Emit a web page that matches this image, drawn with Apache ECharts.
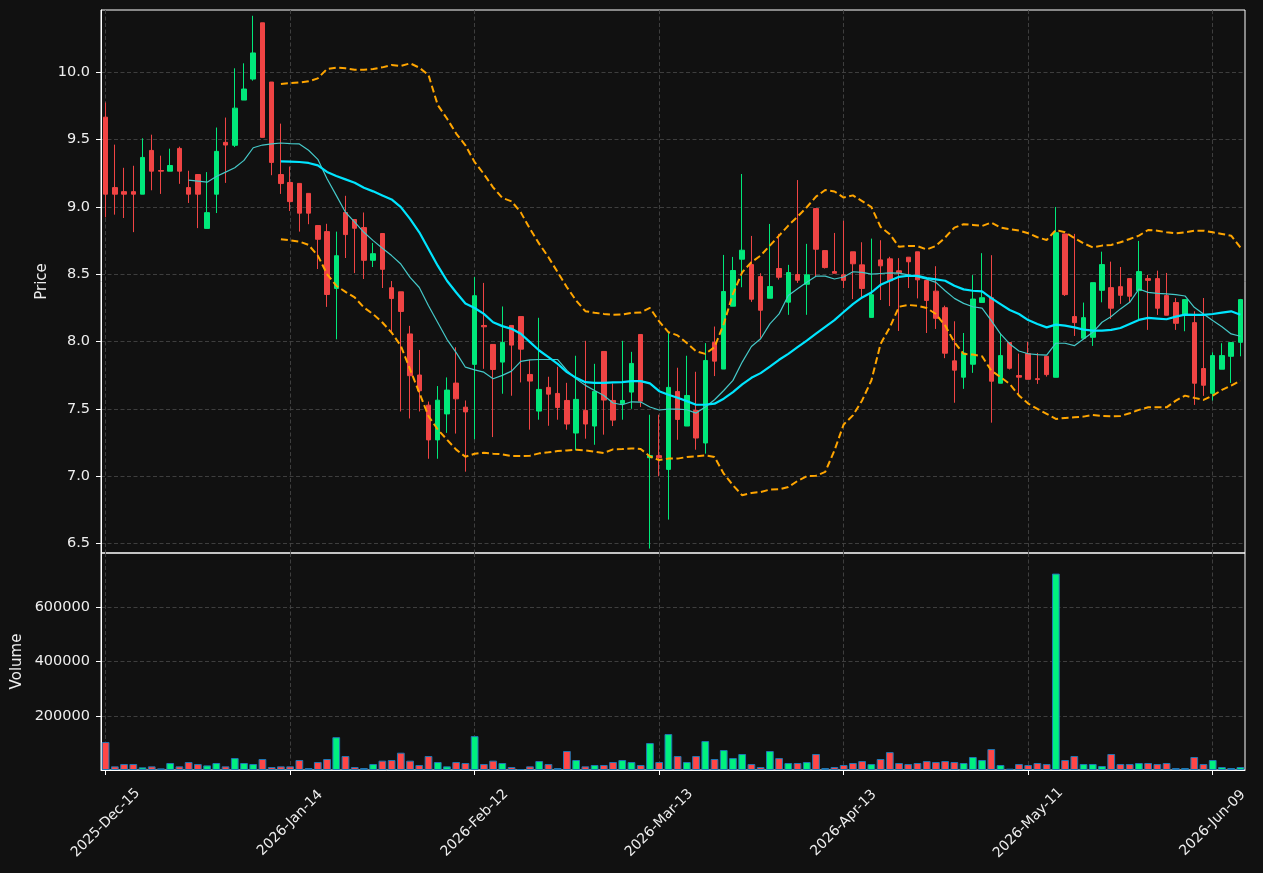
<!DOCTYPE html>
<html><head><meta charset="utf-8">
<script src="https://cdn.jsdelivr.net/npm/echarts@6/dist/echarts.min.js"></script>
<style>html,body{margin:0;padding:0;background:#111111;}#c{width:1263px;height:873px;}</style>
</head><body><div id="c"></div>
<script>
const dates = [
"2025-Dec-15","2025-Dec-16","2025-Dec-17","2025-Dec-18","2025-Dec-19","2025-Dec-22","2025-Dec-23","2025-Dec-24","2025-Dec-26","2025-Dec-29","2025-Dec-30","2025-Dec-31",
"2026-Jan-02","2026-Jan-05","2026-Jan-06","2026-Jan-07","2026-Jan-08","2026-Jan-09","2026-Jan-12","2026-Jan-13","2026-Jan-14","2026-Jan-15","2026-Jan-16","2026-Jan-20","2026-Jan-21","2026-Jan-22","2026-Jan-23","2026-Jan-26","2026-Jan-27","2026-Jan-28","2026-Jan-29","2026-Jan-30",
"2026-Feb-02","2026-Feb-03","2026-Feb-04","2026-Feb-05","2026-Feb-06","2026-Feb-09","2026-Feb-10","2026-Feb-11","2026-Feb-12","2026-Feb-13","2026-Feb-17","2026-Feb-18","2026-Feb-19","2026-Feb-20","2026-Feb-23","2026-Feb-24","2026-Feb-25","2026-Feb-26","2026-Feb-27",
"2026-Mar-02","2026-Mar-03","2026-Mar-04","2026-Mar-05","2026-Mar-06","2026-Mar-09","2026-Mar-10","2026-Mar-11","2026-Mar-12","2026-Mar-13","2026-Mar-16","2026-Mar-17","2026-Mar-18","2026-Mar-19","2026-Mar-20","2026-Mar-23","2026-Mar-24","2026-Mar-25","2026-Mar-26","2026-Mar-27","2026-Mar-30","2026-Mar-31",
"2026-Apr-01","2026-Apr-02","2026-Apr-06","2026-Apr-07","2026-Apr-08","2026-Apr-09","2026-Apr-10","2026-Apr-13","2026-Apr-14","2026-Apr-15","2026-Apr-16","2026-Apr-17","2026-Apr-20","2026-Apr-21","2026-Apr-22","2026-Apr-23","2026-Apr-24","2026-Apr-27","2026-Apr-28","2026-Apr-29","2026-Apr-30",
"2026-May-01","2026-May-04","2026-May-05","2026-May-06","2026-May-07","2026-May-08","2026-May-11","2026-May-12","2026-May-13","2026-May-14","2026-May-15","2026-May-18","2026-May-19","2026-May-20","2026-May-21","2026-May-22","2026-May-26","2026-May-27","2026-May-28","2026-May-29",
"2026-Jun-01","2026-Jun-02","2026-Jun-03","2026-Jun-04","2026-Jun-05","2026-Jun-08","2026-Jun-09","2026-Jun-10","2026-Jun-11","2026-Jun-12"];

const opens = [9.667,9.144,9.114,9.114,9.095,9.420,9.271,9.266,9.435,9.144,9.241,8.841,9.095,9.480,9.458,9.794,9.950,10.368,9.928,9.241,
9.182,9.175,9.101,8.862,8.817,8.395,8.959,8.907,8.847,8.604,8.803,8.400,8.370,8.057,7.752,7.528,7.270,7.463,7.692,7.513,
7.831,8.120,7.979,7.848,8.120,8.186,7.756,7.484,7.660,7.615,7.563,7.321,7.489,7.373,7.927,7.563,7.539,7.625,8.053,7.138,
7.153,7.051,7.630,7.373,7.489,7.247,7.994,7.796,8.263,8.612,8.572,8.483,8.322,8.543,8.293,8.498,8.426,8.988,8.676,8.520,
8.496,8.667,8.570,8.180,8.607,8.615,8.526,8.627,8.667,8.454,8.375,8.252,7.857,7.736,7.832,8.291,8.326,7.691,7.993,7.748,
7.912,7.725,7.891,7.735,8.800,8.186,8.025,8.032,8.381,8.401,8.408,8.468,8.379,8.468,8.468,8.342,8.290,8.196,8.141,7.800,
7.616,7.795,7.891,7.995];
const highs = [9.776,9.463,9.291,9.306,9.510,9.537,9.381,9.433,9.448,9.269,9.241,9.259,9.590,9.664,10.030,10.067,10.420,10.368,9.928,9.619,
9.300,9.175,9.101,8.862,8.875,8.817,9.083,8.907,8.959,8.733,8.803,8.450,8.370,8.117,7.938,7.555,7.670,7.734,7.958,7.563,
8.479,8.436,7.979,8.261,8.120,8.186,7.865,8.177,7.739,7.813,7.694,7.895,8.006,7.835,7.927,7.689,8.006,7.924,8.053,7.457,
7.457,8.065,7.806,7.895,7.776,7.989,8.112,8.644,8.629,9.245,8.785,8.508,8.874,8.800,8.570,9.200,8.726,8.988,8.676,8.807,
8.898,8.667,8.738,8.765,8.753,8.630,8.620,8.627,8.667,8.454,8.560,8.267,8.151,8.064,8.494,8.657,8.642,8.064,7.993,7.911,
7.998,7.916,7.891,9.000,8.800,8.800,8.290,8.438,8.668,8.594,8.554,8.468,8.748,8.495,8.527,8.510,8.324,8.312,8.225,8.324,
7.921,7.988,7.993,8.317];
const lows = [8.923,8.943,8.918,8.813,9.095,9.124,9.097,9.266,9.172,9.030,8.843,8.841,8.955,9.179,9.445,9.794,9.938,9.517,9.236,9.097,
8.970,8.817,8.872,8.539,8.258,8.017,8.621,8.509,8.465,8.554,8.398,8.067,7.481,7.429,7.481,7.130,7.130,7.322,7.317,7.034,
7.275,7.798,7.291,7.613,7.598,7.697,7.346,7.420,7.375,7.420,7.346,7.192,7.279,7.234,7.309,7.373,7.420,7.501,7.514,6.463,
7.000,6.678,7.271,7.373,7.197,7.168,7.744,7.796,8.263,8.404,8.295,8.028,8.322,8.461,8.199,8.436,8.199,8.483,8.543,8.508,
8.397,8.316,8.328,8.180,8.309,8.264,8.079,8.398,8.321,8.064,8.094,7.877,7.546,7.649,7.768,8.291,7.398,7.691,7.793,7.607,
7.720,7.686,7.740,7.735,8.339,8.042,8.025,7.968,8.292,8.168,8.280,8.290,8.168,8.087,8.198,8.196,8.087,8.077,7.530,7.597,
7.562,7.795,7.693,7.891];
const closes = [9.095,9.095,9.095,9.095,9.368,9.266,9.266,9.308,9.266,9.095,9.095,8.958,9.413,9.460,9.734,9.876,10.144,9.517,9.331,9.174,
9.040,8.954,8.954,8.760,8.350,8.638,8.795,8.842,8.604,8.653,8.537,8.320,8.224,7.747,7.635,7.270,7.565,7.640,7.575,7.478,
8.341,8.110,7.793,7.994,7.974,7.944,7.707,7.645,7.610,7.511,7.388,7.571,7.388,7.630,7.566,7.417,7.563,7.838,7.558,7.153,
7.138,7.660,7.422,7.600,7.284,7.860,7.855,8.372,8.528,8.679,8.315,8.233,8.409,8.478,8.513,8.456,8.496,8.686,8.550,8.508,
8.455,8.578,8.395,8.348,8.563,8.452,8.511,8.593,8.459,8.306,8.173,7.914,7.788,7.916,8.316,8.326,7.706,7.896,7.802,7.736,
7.720,7.718,7.755,8.809,8.349,8.141,8.178,8.438,8.572,8.248,8.344,8.337,8.520,8.455,8.248,8.196,8.136,8.312,7.691,7.676,
7.896,7.896,7.993,8.312];
const volumes = [103000,13500,22000,22000,9800,13500,6000,25800,13500,29400,22000,17000,25800,13500,44000,25800,22000,40500,11000,13500,
13500,36800,7400,29400,40500,121000,51500,11000,7400,22000,34400,36800,63800,34400,18400,51500,29400,13500,29400,25800,
125000,22000,34400,25800,11000,3700,13500,33000,22000,7400,70000,36800,13500,18400,18400,29400,36800,29400,18400,99400,
29400,132500,51500,29400,51500,106700,40500,73600,44000,59000,22000,11000,70000,44000,25800,25800,29400,59000,7400,11000,
18400,25800,33000,22000,40500,66000,25800,22000,25800,33000,29400,33000,29400,25800,47900,36800,77300,18400,4900,22000,
18400,25800,22000,724000,36800,51500,22000,22000,14700,59000,22000,22000,25800,25800,22000,25800,7400,7400,47900,22000,
36800,11000,7400,11000];

const ma10Start = 9;
const ma10 = [9.199,9.192,9.184,9.226,9.259,9.291,9.346,9.440,9.460,9.468,9.475,
9.470,9.468,9.421,9.354,9.210,9.086,8.961,8.887,8.812,8.750,8.693,8.639,8.576,8.477,8.402,8.266,8.142,8.017,7.918,7.810,
7.790,7.773,7.724,7.749,7.781,7.853,7.865,7.867,7.867,7.867,7.786,7.724,7.675,7.637,7.600,7.544,7.531,7.553,7.551,7.514,
7.492,7.499,7.499,7.494,7.469,7.514,7.568,7.637,7.712,7.848,7.964,8.021,8.132,8.206,8.342,8.392,8.441,8.486,8.486,8.465,
8.480,8.519,8.514,8.501,8.506,8.511,8.509,8.496,8.481,8.464,8.440,8.378,8.321,8.284,8.259,8.249,8.156,8.057,7.983,7.930,
7.910,7.903,7.899,7.988,7.988,7.970,8.020,8.069,8.144,8.186,8.243,8.292,8.391,8.366,8.359,8.354,8.349,8.339,8.255,8.205,
8.156,8.111,8.057,8.040];

const bandStart = 19;
const ma20 = [9.339,
9.337,9.334,9.327,9.309,9.260,9.230,9.205,9.180,9.143,9.116,9.086,9.056,8.999,8.912,8.812,8.688,8.564,8.452,8.365,8.283,
8.250,8.206,8.144,8.115,8.095,8.058,7.996,7.934,7.885,7.835,7.773,7.731,7.699,7.694,7.694,7.697,7.699,7.707,7.707,7.690,
7.632,7.605,7.583,7.558,7.531,7.531,7.539,7.576,7.625,7.682,7.731,7.766,7.815,7.865,7.909,7.959,8.008,8.060,8.110,8.160,
8.220,8.279,8.328,8.365,8.422,8.452,8.481,8.489,8.489,8.472,8.462,8.452,8.415,8.388,8.378,8.373,8.323,8.279,8.235,8.205,
8.160,8.131,8.106,8.126,8.119,8.106,8.089,8.082,8.082,8.087,8.101,8.131,8.161,8.176,8.171,8.166,8.186,8.200,8.198,8.198,
8.205,8.215,8.225,8.200];
const upper = [9.914,
9.920,9.925,9.933,9.955,10.025,10.035,10.030,10.020,10.020,10.025,10.037,10.055,10.047,10.067,10.035,9.980,9.757,9.657,9.545,9.458,
9.333,9.245,9.146,9.067,9.042,8.960,8.837,8.726,8.627,8.515,8.404,8.305,8.226,8.214,8.206,8.199,8.201,8.214,8.216,8.250,
8.150,8.070,8.046,7.989,7.929,7.909,7.959,8.132,8.355,8.515,8.590,8.639,8.713,8.787,8.862,8.928,8.998,9.077,9.126,9.115,
9.070,9.086,9.044,9.000,8.852,8.798,8.704,8.711,8.709,8.684,8.711,8.773,8.847,8.872,8.867,8.859,8.884,8.847,8.835,8.825,
8.805,8.775,8.755,8.829,8.812,8.770,8.730,8.700,8.713,8.718,8.738,8.762,8.787,8.829,8.824,8.812,8.804,8.812,8.824,8.824,
8.812,8.800,8.787,8.700];
const lower = [8.761,
8.752,8.743,8.718,8.639,8.502,8.415,8.370,8.328,8.253,8.204,8.142,8.067,7.968,7.794,7.620,7.446,7.347,7.272,7.198,7.145,
7.167,7.175,7.168,7.163,7.150,7.150,7.153,7.170,7.178,7.187,7.192,7.197,7.192,7.183,7.173,7.200,7.202,7.207,7.202,7.147,
7.120,7.131,7.131,7.143,7.148,7.155,7.143,7.019,6.933,6.859,6.876,6.883,6.901,6.903,6.920,6.965,7.000,7.004,7.032,7.192,
7.385,7.452,7.563,7.711,7.983,8.106,8.259,8.272,8.267,8.249,8.205,8.119,7.995,7.909,7.904,7.891,7.785,7.736,7.686,7.600,
7.540,7.500,7.463,7.426,7.433,7.438,7.443,7.455,7.448,7.446,7.448,7.468,7.493,7.512,7.512,7.512,7.562,7.599,7.582,7.567,
7.599,7.641,7.673,7.710];

const xTickIndex = [0,20,40,60,80,100,120];
const priceTicks = [6.5,7.0,7.5,8.0,8.5,9.0,9.5,10.0];
const volumeTicks = [200000,400000,600000];

const UP = '#00e87a', DOWN = '#f04444';
const VUP = '#00f07f', VDOWN = '#ff4747';
const TXT = '#eeeeee', GRIDC = '#444444';

function pad(start, arr){ const out = []; for (let i=0;i<start;i++) out.push(null); return out.concat(arr); }
const candleData = opens.map((o,i)=>[o, closes[i], lows[i], highs[i]]);
const volData = volumes.map((v,i)=>({value:v, itemStyle:{color: closes[i]>=opens[i]?VUP:VDOWN}}));
const isTick = (idx)=> xTickIndex.indexOf(idx) >= 0;

const chart = echarts.init(document.getElementById('c'), null, {renderer:'canvas'});
const splitLineStyle = {color: GRIDC, width: 0.9, type: [4, 2.5]};
const labelFont = {color: TXT, fontSize: 14.5, fontFamily: 'DejaVu Sans'};
chart.setOption({
  animation: false,
  backgroundColor: '#111111',
  textStyle: {fontFamily: 'DejaVu Sans'},
  grid: [
    {left: 101, right: 18, top: 10, height: 543, show: true, borderColor: '#ffffff', borderWidth: 1, backgroundColor: 'transparent'},
    {left: 101, right: 18, top: 553, height: 217, show: true, borderColor: '#ffffff', borderWidth: 1, backgroundColor: 'transparent'}
  ],
  xAxis: [
    {type: 'category', gridIndex: 0, data: dates, boundaryGap: true,
     axisLine: {show: false}, axisTick: {show: false}, axisLabel: {show: false},
     splitLine: {show: true, interval: (i)=>isTick(i), alignWithLabel: true, lineStyle: splitLineStyle}},
    {type: 'category', gridIndex: 1, data: dates, boundaryGap: true,
     axisLine: {show: true, lineStyle: {color: '#ffffff', width: 1}},
     axisTick: {show: true, alignWithLabel: true, interval: (i)=>isTick(i), length: 5, lineStyle: {color: '#ffffff', width: 1}},
     axisLabel: Object.assign({show: true, interval: (i)=>isTick(i), rotate: 45, align: 'center', verticalAlign: 'middle', margin: 53}, labelFont, {fontSize: 14}),
     splitLine: {show: true, interval: (i)=>isTick(i), alignWithLabel: true, lineStyle: splitLineStyle}}
  ],
  yAxis: [
    {type: 'value', gridIndex: 0, min: 6.43, max: 10.463, splitNumber: 8, scale: true,
     name: 'Price', nameLocation: 'middle', nameGap: 51, nameRotate: 90, nameMoveOverlap: false,
     nameTextStyle: {color: TXT, fontSize: 15, fontFamily: 'DejaVu Sans'},
     axisLine: {show: true, lineStyle: {color: '#ffffff', width: 1}},
     axisTick: {show: true, length: 5, customValues: priceTicks, lineStyle: {color: '#ffffff', width: 1}},
     axisLabel: Object.assign({show: true, customValues: priceTicks, formatter: (v)=>Number(v).toFixed(1), margin: 11}, labelFont),
     splitLine: {show: true, lineStyle: splitLineStyle}},
    {type: 'value', gridIndex: 1, min: 0, max: 800000, interval: 200000,
     name: 'Volume', nameLocation: 'middle', nameGap: 76, nameRotate: 90, nameMoveOverlap: false,
     nameTextStyle: {color: TXT, fontSize: 15, fontFamily: 'DejaVu Sans'},
     axisLine: {show: true, lineStyle: {color: '#ffffff', width: 1}},
     axisTick: {show: true, length: 5, customValues: volumeTicks, lineStyle: {color: '#ffffff', width: 1}},
     axisLabel: Object.assign({show: true, customValues: volumeTicks, formatter: (v)=>String(Math.round(v)), margin: 11}, labelFont),
     splitLine: {show: true, lineStyle: splitLineStyle}}
  ],
  series: [
    {type: 'candlestick', name: 'OHLC', xAxisIndex: 0, yAxisIndex: 0, data: candleData, barWidth: 5,
     itemStyle: {color: UP, color0: DOWN, borderColor: UP, borderColor0: DOWN, borderWidth: 1},
     emphasis: {disabled: true}},
    {type: 'line', name: 'MA10', xAxisIndex: 0, yAxisIndex: 0, data: pad(ma10Start, ma10), symbol: 'none',
     lineStyle: {color: '#45c8c8', width: 1.2}, emphasis: {disabled: true}},
    {type: 'line', name: 'MA20', xAxisIndex: 0, yAxisIndex: 0, data: pad(bandStart, ma20), symbol: 'none',
     lineStyle: {color: '#00e5ff', width: 2.2}, emphasis: {disabled: true}},
    {type: 'line', name: 'Upper', xAxisIndex: 0, yAxisIndex: 0, data: pad(bandStart, upper), symbol: 'none',
     lineStyle: {color: '#ffa500', width: 2, type: [7, 3.5]}, emphasis: {disabled: true}},
    {type: 'line', name: 'Lower', xAxisIndex: 0, yAxisIndex: 0, data: pad(bandStart, lower), symbol: 'none',
     lineStyle: {color: '#ffa500', width: 2, type: [7, 3.5]}, emphasis: {disabled: true}},
    {type: 'bar', name: 'Volume', xAxisIndex: 1, yAxisIndex: 1, data: volData, barWidth: '84%',
     itemStyle: {borderColor: '#1f77b4', borderWidth: 1}, emphasis: {disabled: true}}
  ]
});
</script></body></html>
